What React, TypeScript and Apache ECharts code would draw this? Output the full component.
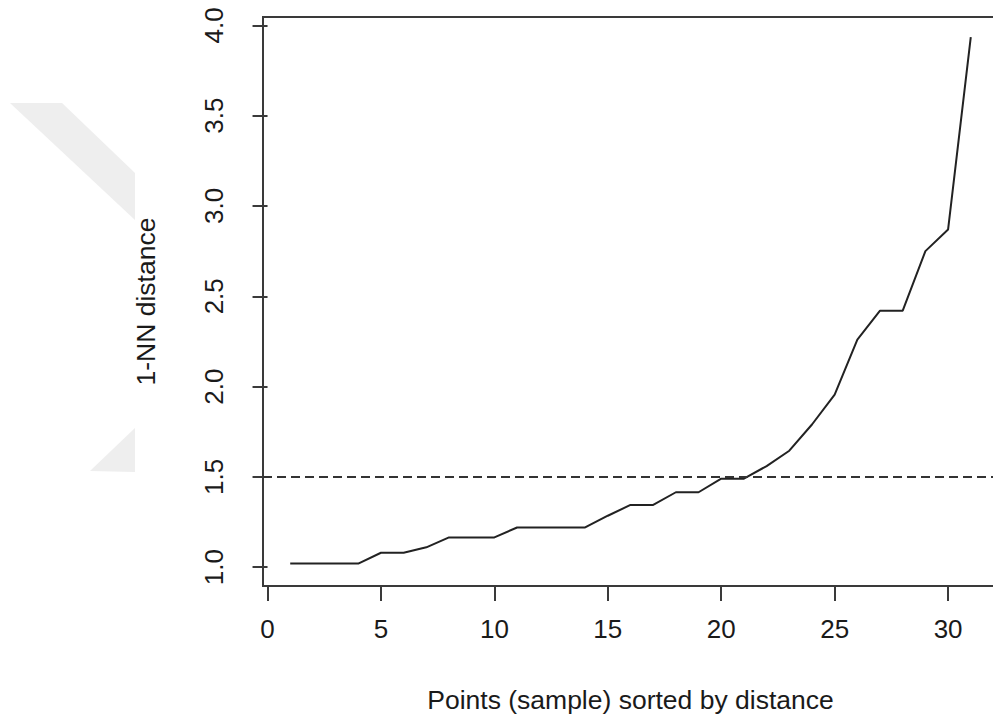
import React, { useEffect, useRef } from "react";
import * as echarts from "echarts";

const pointIndex: number[] = [1, 2, 3, 4, 5, 6, 7, 8, 9, 10, 11, 12, 13, 14, 15, 16, 17, 18, 19, 20, 21, 22, 23, 24, 25, 26, 27, 28, 29, 30, 31];
const nnDistance: number[] = [1.02, 1.02, 1.02, 1.02, 1.08, 1.08, 1.11, 1.165, 1.165, 1.165, 1.22, 1.22, 1.22, 1.22, 1.285, 1.345, 1.345, 1.415, 1.415, 1.49, 1.49, 1.56, 1.645, 1.79, 1.955, 2.26, 2.42, 2.42, 2.75, 2.87, 3.935];
const xTicks: number[] = [0, 5, 10, 15, 20, 25, 30];
const yTicks: number[] = [1.0, 1.5, 2.0, 2.5, 3.0, 3.5, 4.0];
const thresholdValue = 1.5;
const xTitle = "Points (sample) sorted by distance";
const yTitle = "1-NN distance";

const FONT = "'Liberation Sans', Arial, Helvetica, sans-serif";

export default function App() {
  const ref = useRef<HTMLDivElement>(null);
  useEffect(() => {
    if (!ref.current) return;
    const chart = echarts.init(ref.current, undefined, { renderer: "svg" });
    const seriesData = pointIndex.map((x, i) => [x, nnDistance[i]]);
    chart.setOption({
      animation: false,
      backgroundColor: "#ffffff",
      graphic: [
        {
          type: "polygon",
          z: -10,
          silent: true,
          shape: { points: [[10, 103], [62, 103], [135, 173], [135, 220]] },
          style: { fill: "#eeeeee" },
        },
        {
          type: "polygon",
          z: -10,
          silent: true,
          shape: { points: [[90, 471], [135, 428], [135, 472]] },
          style: { fill: "#eeeeee" },
        },
      ],
      grid: {
        left: 263,
        right: 0,
        top: 17,
        bottom: 136,
        show: true,
        borderColor: "#3a3a3a",
        borderWidth: 2,
        backgroundColor: "transparent",
      },
      xAxis: {
        type: "value",
        min: -0.2,
        max: 32.2,
        axisLine: { show: false },
        splitLine: { show: false },
        axisTick: {
          show: true,
          customValues: xTicks,
          length: 15,
          lineStyle: { color: "#3a3a3a", width: 2 },
        },
        axisLabel: {
          customValues: xTicks,
          fontSize: 26,
          fontFamily: FONT,
          color: "#1a1a1a",
          margin: 30,
          formatter: (v: number) => String(v),
        },
        name: xTitle,
        nameLocation: "middle",
        nameGap: 100,
        nameTextStyle: { fontSize: 26.5, fontFamily: FONT, color: "#1a1a1a" },
      },
      yAxis: {
        type: "value",
        min: 0.896,
        max: 4.046,
        axisLine: { show: false },
        splitLine: { show: false },
        axisTick: {
          show: true,
          customValues: yTicks,
          length: 15,
          lineStyle: { color: "#3a3a3a", width: 2 },
        },
        axisLabel: {
          customValues: yTicks,
          rotate: 90,
          fontSize: 26,
          fontFamily: FONT,
          color: "#1a1a1a",
          margin: 36,
          formatter: (v: number) => v.toFixed(1),
        },
        name: yTitle,
        nameLocation: "middle",
        nameRotate: 90,
        nameGap: 104,
        nameTextStyle: { fontSize: 26.5, fontFamily: FONT, color: "#1a1a1a" },
      },
      series: [
        {
          type: "line",
          data: seriesData,
          showSymbol: false,
          symbol: "none",
          lineStyle: { color: "#222222", width: 2 },
          markLine: {
            silent: true,
            symbol: ["none", "none"],
            label: { show: false },
            lineStyle: { color: "#333333", width: 2, type: [9, 5] },
            data: [{ yAxis: thresholdValue }],
          },
        },
      ],
    });
    return () => chart.dispose();
  }, []);
  return (
    <div
      ref={ref}
      style={{ position: "fixed", left: 0, top: 0, width: 998, height: 722 }}
    />
  );
}
